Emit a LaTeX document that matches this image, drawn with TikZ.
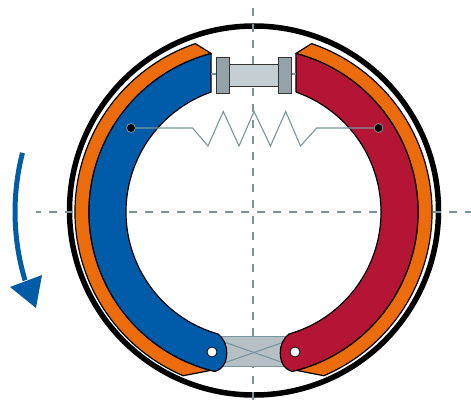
\documentclass[tikz,border=0pt]{standalone}
\usepackage{tikz}
\usetikzlibrary{arrows.meta,positioning}
\definecolor{shoeblue}{HTML}{005CA9}
\definecolor{shoered}{HTML}{B51535}
\definecolor{liningorange}{HTML}{EC6B0A}
\definecolor{centregray}{HTML}{7A959E}
\definecolor{platebody}{HTML}{95A3A8}
\definecolor{cylbody}{HTML}{C5CED2}
\definecolor{blockbody}{HTML}{B6C0C5}
\begin{document}
\begin{tikzpicture}[
    x=1pt, y=1pt,
    drum/.style={draw=black, line width=5.5pt},
    centreline/.style={draw=centregray, line width=1.5pt, dash pattern=on 8pt off 8pt},
    lining/.style={draw=black, line width=1.2pt, fill=liningorange, line join=round},
    shoe/.style={draw=black, line width=1.2pt, line join=round},
    cylplate/.style={draw=black!80, line width=0.9pt, fill=platebody},
    cylmiddle/.style={draw=black!80, line width=0.9pt, fill=cylbody},
    thinpart/.style={draw=centregray, line width=1.1pt},
    springline/.style={draw=centregray, line width=1.1pt, line join=miter},
    anchorpoint/.style={circle, draw=centregray, line width=0.8pt, fill=black, inner sep=0pt, minimum size=9pt},
    pinpoint/.style={circle, draw=black, line width=0.8pt, fill=white, inner sep=0pt, minimum size=10pt}
]
\useasboundingbox (0,0) rectangle (471,400);

% Trommel und Mittellinien
\draw[drum] (254,189.5) circle[radius=184.5];
\draw[centreline, dash phase=3pt] (36,188) -- (471,188);
\draw[centreline] (253,392) -- (253,0);

% Anlegerichtung
\draw[draw=shoeblue, line width=5pt] (253,188) ++(165.6:238) arc[start angle=165.6, end angle=196.7, radius=238];
\fill[shoeblue] (10,113) -- (42,125) -- (36,92) -- cycle;

% Sperrblock unten
\fill[blockbody] (218,63.5) rectangle (289,33.5);
\draw[thinpart] (218,63.5) -- (289,63.5);
\draw[thinpart] (218,33.5) -- (289,33.5);
\draw[thinpart] (224,58) -- (284,37);
\draw[thinpart] (224,37) -- (284,58);

% linke Backe
\begin{scope}[shift={(253,188)}]
\draw[lining] (108.9:178) arc[start angle=108.9, end angle=246.9, radius=178] -- (255:164) arc[start angle=255, end angle=104.8, radius=164] -- cycle;
\draw[shoe, fill=shoeblue] (104.8:164) arc[start angle=104.8, end angle=256.5, radius=164]
    .. controls (-30,-157) and (-26.3,-150) .. (-26.3,-141)
    .. controls (-26.3,-133) and (-29,-127) .. (-35,-122)
    arc[start angle=254, end angle=109.3, radius=127] -- cycle;
\end{scope}

% rechte Backe
\begin{scope}[shift={(254,188)}, xscale=-1]
\draw[lining] (108.9:178) arc[start angle=108.9, end angle=246.9, radius=178] -- (255:164) arc[start angle=255, end angle=104.8, radius=164] -- cycle;
\draw[shoe, fill=shoered] (104.8:164) arc[start angle=104.8, end angle=256.5, radius=164]
    .. controls (-30,-157) and (-26.3,-150) .. (-26.3,-141)
    .. controls (-26.3,-133) and (-29,-127) .. (-35,-122)
    arc[start angle=254, end angle=109.3, radius=127] -- cycle;
\end{scope}

% Radzylinder oben
\draw[thinpart] (211,326) -- (296,326);
\draw[cylmiddle] (229.5,336) rectangle (278.5,314);
\draw[cylplate] (216.5,342.5) rectangle (229.5,307);
\draw[cylplate] (278.5,342.5) rectangle (291.5,307);

% Rueckholfeder
\node[anchorpoint] (springleft) at (131,272) {};
\node[anchorpoint] (springright) at (378.5,272) {};
\draw[springline] (springleft) -- (192.5,272) -- (208,254) -- (223.3,288.5) -- (239,254) -- (254,288.5)
    -- (270.5,254) -- (285.7,288.5) -- (300.5,254) -- (316.7,272) -- (springright);

% Bolzen
\node[pinpoint] (pinleft) at (212,48) {};
\node[pinpoint] (pinright) at (295,48) {};
\end{tikzpicture}
\end{document}
